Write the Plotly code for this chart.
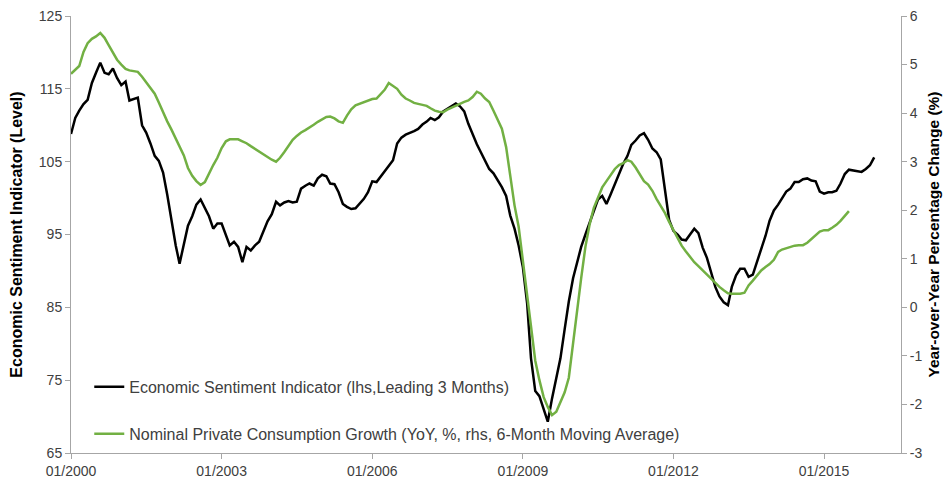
import plotly.graph_objects as go
import pandas as pd

# ---------------- data ----------------
esi_start = "2000-01-01"
esi_values = [
    108.8, 111.0, 112.0, 112.9, 113.5, 115.8, 117.2, 118.6, 117.2, 117.0, 117.8, 116.5,  # 2000
    115.5, 116.0, 113.4, 113.6, 113.8, 110.0, 109.0, 107.5, 105.8, 105.1, 103.5, 100.5,  # 2001
    97.0, 93.5, 91.0, 93.5, 96.2, 97.5, 99.1, 99.8, 98.7, 97.5, 95.8, 96.5,              # 2002
    96.5, 95.0, 93.5, 94.0, 93.3, 91.2, 93.3, 92.8, 93.5, 94.0, 95.3, 96.8,              # 2003
    97.8, 99.5, 99.0, 99.4, 99.6, 99.4, 99.5, 101.3, 101.7, 102.0, 101.7, 102.7,         # 2004
    103.2, 103.0, 102.0, 101.9, 100.8, 99.2, 98.8, 98.5, 98.6, 99.2, 99.9, 100.8,        # 2005
    102.3, 102.2, 102.9, 103.7, 104.3, 105.2, 107.5, 108.3, 108.7, 108.9, 109.2, 109.5,  # 2006
    110.1, 110.5, 111.0, 110.7, 111.1, 111.9, 112.3, 112.6, 113.0, 112.6, 111.9, 110.2,  # 2007
    108.7, 107.4, 106.3, 105.1, 104.0, 103.4, 102.5, 101.5, 100.3, 97.6, 95.8, 93.5,     # 2008
    90.5, 85.5, 78.0, 73.5, 72.8, 71.0, 69.3, 72.5, 75.5, 78.0, 82.0, 85.8,              # 2009
    89.0, 91.2, 93.3, 95.0, 96.5, 98.3, 99.8, 100.3, 99.2, 100.5, 102.0, 103.3,          # 2010
    104.7, 105.8, 107.3, 107.9, 108.6, 108.9, 108.0, 106.8, 106.3, 105.3, 100.8, 97.0,   # 2011
    95.5, 95.0, 94.3, 94.2, 95.0, 95.8, 95.2, 93.2, 91.8, 89.8, 87.8, 86.5,              # 2012
    85.7, 85.3, 87.8, 89.4, 90.3, 90.3, 89.2, 89.5, 91.3, 93.2, 94.8, 96.9,              # 2013
    98.3, 99.1, 100.0, 100.9, 101.3, 102.2, 102.2, 102.6, 102.7, 102.4, 102.3, 100.9,    # 2014
    100.6, 100.8, 100.8, 101.0, 102.0, 103.3, 103.9, 103.8, 103.6, 103.6, 104.0, 104.5,  # 2015
    105.6,                                                                                # 2016
]

pcg_start = "2000-01-01"
pcg_values = [
    4.81, 4.89, 4.97, 5.26, 5.44, 5.53, 5.58, 5.65, 5.55, 5.40, 5.24, 5.10,   # 2000
    5.00, 4.91, 4.88, 4.86, 4.85, 4.75, 4.64, 4.53, 4.40, 4.22, 4.01, 3.83,   # 2001
    3.66, 3.47, 3.31, 3.13, 2.87, 2.71, 2.60, 2.52, 2.58, 2.76, 2.93, 3.08,   # 2002
    3.28, 3.42, 3.46, 3.46, 3.46, 3.42, 3.38, 3.32, 3.26, 3.20, 3.14, 3.09,   # 2003
    3.04, 3.00, 3.08, 3.20, 3.33, 3.45, 3.53, 3.60, 3.65, 3.70, 3.76, 3.82,   # 2004
    3.87, 3.92, 3.93, 3.89, 3.83, 3.80, 3.95, 4.08, 4.16, 4.19, 4.22, 4.26,   # 2005
    4.29, 4.30, 4.38, 4.48, 4.62, 4.56, 4.50, 4.38, 4.30, 4.26, 4.21, 4.19,   # 2006
    4.17, 4.15, 4.10, 4.05, 4.03, 4.02, 4.07, 4.11, 4.16, 4.20, 4.23, 4.26,   # 2007
    4.33, 4.44, 4.40, 4.30, 4.23, 4.05, 3.87, 3.68, 3.30, 2.75, 2.10, 1.66,   # 2008
    0.95, 0.20, -0.45, -1.10, -1.50, -1.85, -2.05, -2.22, -2.15, -1.95, -1.75, -1.45,  # 2009
    -0.75, 0.05, 0.60, 1.25, 1.70, 2.05, 2.25, 2.47, 2.60, 2.72, 2.85, 2.93,  # 2010
    2.97, 3.03, 3.00, 2.88, 2.74, 2.60, 2.53, 2.40, 2.23, 2.10, 1.94, 1.76,   # 2011
    1.60, 1.45, 1.27, 1.15, 1.03, 0.93, 0.85, 0.76, 0.67, 0.60, 0.50, 0.42,   # 2012
    0.35, 0.29, 0.28, 0.28, 0.28, 0.30, 0.45, 0.55, 0.66, 0.76, 0.83, 0.89,   # 2013
    0.98, 1.14, 1.19, 1.22, 1.25, 1.27, 1.28, 1.28, 1.33, 1.41, 1.48, 1.56,   # 2014
    1.59, 1.59, 1.64, 1.70, 1.78, 1.89, 1.98,                                 # 2015
]

esi_name = "Economic Sentiment Indicator (lhs,Leading 3 Months)"
pcg_name = "Nominal Private Consumption Growth (YoY, %, rhs, 6-Month Moving Average)"

left_title = "Economic Sentiment Indicator (Level)"
right_title = "Year-over-Year Percentage Change (%)"

right_tick_values = [-3, -2, -1, 0, 1, 2, 3, 4, 5, 6]
right_tick_labels = ["-3", "-2", "-1", "0", "1", "2", "3", "4", "5", "6"]

x_range = ["2000-01-01", "2016-07-14"]
left_range = [65, 125]
right_range = [-3, 6]

esi_dates = pd.date_range(esi_start, periods=len(esi_values), freq="MS")
pcg_dates = pd.date_range(pcg_start, periods=len(pcg_values), freq="MS")

# ---------------- figure ----------------
FONT = "Liberation Sans, Arial, sans-serif"
AXIS_COLOR = "#A6A6A6"
TEXT_COLOR = "#404040"

fig = go.Figure()
fig.add_trace(go.Scatter(
    x=esi_dates, y=esi_values, name=esi_name, mode="lines",
    line=dict(color="#000000", width=2.5), legendgroup="a", yaxis="y",
))
fig.add_trace(go.Scatter(
    x=pcg_dates, y=pcg_values, name=pcg_name, mode="lines",
    line=dict(color="#72B043", width=2.5), legendgroup="b", yaxis="y2",
))

# the page body has an 8px default margin, so the figure is sized to fit
fig.update_layout(
    width=943, height=474,
    margin=dict(l=63, r=50, t=8, b=29),
    paper_bgcolor="white", plot_bgcolor="white",
    font=dict(family=FONT, size=14, color=TEXT_COLOR),
    showlegend=True,
    legend=dict(
        x=0.022, y=0.19, xanchor="left", yanchor="top",
        bgcolor="rgba(0,0,0,0)", borderwidth=0,
        font=dict(family=FONT, size=16, color=TEXT_COLOR),
        tracegroupgap=23, traceorder="grouped",
    ),
    xaxis=dict(
        type="date", range=x_range, automargin=False,
        tick0="2000-01-01", dtick="M36", tickformat="%m/%Y",
        showline=True, linecolor=AXIS_COLOR, linewidth=1,
        ticks="outside", ticklen=5, tickcolor=AXIS_COLOR,
        showgrid=False, zeroline=False, ticklabeloverflow="allow",
        tickfont=dict(family=FONT, size=14, color=TEXT_COLOR),
    ),
    yaxis=dict(
        range=left_range, dtick=10, tick0=65, automargin=False,
        showline=True, linecolor=AXIS_COLOR, linewidth=1,
        ticks="outside", ticklen=5, tickcolor=AXIS_COLOR,
        showgrid=False, zeroline=False, ticklabeloverflow="allow",
        tickfont=dict(family=FONT, size=14, color=TEXT_COLOR),
        title=dict(text="<b>" + left_title + "</b>", standoff=12,
                   font=dict(family=FONT, size=16, color="#000000")),
    ),
    yaxis2=dict(
        range=right_range, overlaying="y", side="right", automargin=False,
        tickmode="array", tickvals=right_tick_values, ticktext=right_tick_labels,
        showline=True, linecolor=AXIS_COLOR, linewidth=1,
        ticks="outside", ticklen=5, tickcolor=AXIS_COLOR,
        showgrid=False, zeroline=False, ticklabeloverflow="allow",
        tickfont=dict(family=FONT, size=14, color=TEXT_COLOR),
        title=dict(text="<b>" + right_title + "</b>", standoff=6,
                   font=dict(family=FONT, size=15.5, color="#000000")),
    ),
)

fig.write_html("out.html")
